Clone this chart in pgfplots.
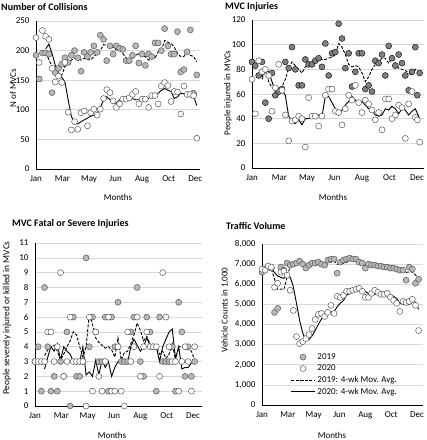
\documentclass[border=0pt]{standalone}
\usepackage{fontspec}
\setmainfont{Carlito}
\usepackage{pgfplots}
\pgfplotsset{compat=1.18}
\definecolor{gridc}{RGB}{217,217,217}
\definecolor{markc}{RGB}{89,89,89}
\definecolor{fillA}{RGB}{184,184,184}
\definecolor{fillB}{RGB}{128,128,128}
\pgfplotsset{
 panel/.style={
   scale only axis, clip=false,
   axis x line*=bottom, axis y line*=left,
   axis line style={black, line width=0.7pt},
   ymajorgrids, grid style={gridc, line width=0.6pt},
   major tick length=0pt,
   xtick={0,8.25,16.5,24.75,33,41.25,49.5},
   xticklabels={Jan,Mar,May,Jun,Aug,Oct,Dec},
   tick label style={font=\fontsize{9}{10}\selectfont, black},
   /pgf/number format/assume math mode=true,
   scaled y ticks=false,
   xticklabel style={yshift=-3pt},
   yticklabel style={xshift=-3pt},
   xmin=0, ymin=0,
   legend image code/.code={\draw[mark repeat=2,mark phase=2,##1] plot coordinates {(0pt,0pt) (12pt,0pt) (24pt,0pt)};},
 },
 s19/.style={only marks, mark=*, mark size=3pt, mark options={fill=fillA, draw=markc, line width=0.5pt}},
 s20/.style={only marks, mark=*, mark size=3pt, mark options={fill=white, draw=markc, line width=0.5pt}},
 m19/.style={no marks, black, line width=0.9pt, dash pattern=on 3pt off 1.6pt},
 m20/.style={no marks, black, line width=0.9pt},
}
\begin{document}
\begin{tikzpicture}[x=1pt,y=1pt]
\useasboundingbox (0,0) rectangle (427,440);
% ---------------- Panel 1
\begin{axis}[panel, at={(36pt,271pt)}, anchor=south west, width=164pt, height=148pt,
  xmax=51, ymax=250, ytick={0,50,100,150,200,250}]
\addplot[s19] coordinates {(0,192)(1,152)(2,196)(3,196)(4,194)(5,129)(6,163)(7,170)(8,177)(9,188)(10,180)(11,192)(12,200)(13,188)(14,165)(15,197)(16,190)(17,197)(18,208)(19,197)(20,226)(21,219)(22,183)(23,208)(24,194)(25,208)(26,204)(27,202)(28,183)(29,183)(30,192)(31,208)(32,179)(33,194)(34,175)(35,194)(36,190)(37,213)(38,213)(39,200)(40,237)(41,208)(42,194)(43,194)(44,232)(45,164)(46,168)(47,198)(48,235)(49,128)(50,159)};
\addplot[s20] coordinates {(0,222)(1,180)(2,234)(3,224)(4,219)(5,170)(6,147)(7,157)(8,146)(9,180)(10,96)(11,66)(12,80)(13,67)(14,95)(15,98)(16,73)(17,95)(18,101)(19,91)(20,101)(21,119)(22,134)(23,129)(24,115)(25,104)(26,110)(27,118)(28,118)(29,120)(30,126)(31,131)(32,110)(33,118)(34,118)(35,104)(36,124)(37,124)(38,110)(39,140)(40,146)(41,141)(42,114)(43,131)(44,130)(45,93)(46,140)(47,126)(48,126)(49,124)(50,52)};
\addplot[m19] coordinates {(3,196)(4,185)(5,173)(6,164)(7,161)(8,158)(9,173)(10,178)(11,184)(12,187)(13,185)(14,184)(15,187)(16,185)(17,184)(18,190)(19,195)(20,200)(21,210)(22,209)(23,206)(24,206)(25,201)(26,201)(27,195)(28,188)(29,184)(30,186)(31,192)(32,195)(33,190)(34,190)(35,184)(36,186)(37,187)(38,198)(39,201)(40,217)(41,214)(42,212)(43,206)(44,195)(45,190)(46,190)(47,201)(48,192)(49,190)(50,181)};
\addplot[m20] coordinates {(3,203)(4,211)(5,195)(6,175)(7,163)(8,155)(9,147)(10,117)(11,89)(12,77)(13,76)(14,80)(15,83)(16,86)(17,89)(18,91)(19,94)(20,103)(21,117)(22,122)(23,117)(24,111)(25,111)(26,117)(27,119)(28,122)(29,122)(30,119)(31,117)(32,117)(33,117)(34,114)(35,119)(36,125)(37,128)(38,128)(39,133)(40,136)(41,133)(42,131)(43,119)(44,122)(45,128)(46,127)(47,122)(48,125)(49,124)(50,107)};
\end{axis}
% ---------------- Panel 2
\begin{axis}[panel, at={(252pt,272pt)}, anchor=south west, width=172pt, height=148pt,
  xmax=51.6, ymax=120, ytick={0,20,40,60,80,100,120}]
\addplot[s19, mark options={fill=fillB}] coordinates {(0,86)(1,83)(2,75)(3,86)(4,53)(5,40)(6,77)(7,59)(8,62)(9,64)(10,86)(11,81)(12,98)(13,80)(14,67)(15,67)(16,88)(17,84)(18,84)(19,87)(20,89)(21,82)(22,101)(23,75)(24,93)(25,94)(26,117)(27,105)(28,81)(29,93)(30,66)(31,78)(32,93)(33,93)(34,64)(35,67)(36,62)(37,87)(38,85)(39,92)(40,75)(41,99)(42,89)(43,83)(44,92)(45,85)(46,75)(47,63)(48,78)(49,98)(49.6,59)(50.3,77)};
\addplot[s20] coordinates {(0,72)(1,44)(2,87)(3,78)(4,80)(5,75)(6,46)(7,65)(8,84)(9,63)(10,43)(11,22)(12,38)(13,39)(14,42)(15,40)(16,17)(17,57)(18,42)(19,42)(20,34)(21,42)(22,59)(23,64)(24,64)(25,46)(26,45)(27,35)(28,48)(29,59)(30,55)(31,67)(32,53)(33,45)(34,55)(35,52)(36,47)(37,39)(38,45)(39,31)(40,56)(41,56)(42,40)(43,43)(44,51)(45,49)(46,24)(47,52)(48,62)(49,41)(49.6,39)(50.3,21)};
\addplot[m19] coordinates {(3,72)(4,79)(5,70)(6,65)(7,64)(8,63)(9,66)(10,72)(11,81)(12,86)(13,83)(14,80)(15,77)(16,82)(17,84)(18,86)(19,88)(20,89)(21,88)(22,88)(23,89)(24,90)(25,92)(26,101)(27,98)(28,92)(29,84)(30,82)(31,83)(32,82)(33,77)(34,70)(35,74)(36,80)(37,84)(38,86)(39,89)(40,89)(41,85)(42,89)(43,85)(44,81)(45,80)(46,79)(47,77)(48,75)(49,80)(50.3,77)};
\addplot[m20] coordinates {(3,74)(4,80)(5,78)(6,70)(7,62)(8,65)(9,63)(10,59)(11,42)(12,38)(13,36)(14,39)(15,35)(16,40)(17,40)(18,42)(19,40)(20,43)(21,42)(22,58)(23,58)(24,53)(25,48)(26,43)(27,47)(28,51)(29,54)(30,58)(31,55)(32,52)(33,54)(34,51)(35,48)(36,47)(37,43)(38,42)(39,43)(40,48)(41,47)(42,50)(43,48)(44,44)(45,48)(46,47)(47,43)(48,46)(49,48)(50.3,40)};
\end{axis}
% ---------------- Panel 3
\begin{axis}[panel, at={(35pt,34pt)}, anchor=south west, width=167pt, height=163pt,
  xmax=52.3, ymax=11, ytick={0,1,...,11}]
\addplot[s19] coordinates {(0,3)(1,4)(2,1)(3,8)(4,4)(5,1)(6,2)(7,1)(8,3)(9,2)(10,5)(11,0)(12,6)(13,2)(14,2)(15,3)(16,10)(17,4)(18,6)(19,5)(20,3)(21,3)(22,6)(23,1)(24,6)(25,4)(26,7)(27,3)(28,3)(29,3)(30,5)(31,6)(32,8)(33,3)(34,2)(35,6)(36,5)(37,4)(38,1)(39,6)(40,3)(41,3)(42,3)(43,4)(44,1)(45,7)(46,5)(47,2)(48,4)(49,2)(50,3)};
\addplot[s20] coordinates {(0,3)(1,3)(2,3)(3,3)(4,5)(5,5)(6,3)(7,4)(8,9)(9,2)(10,3)(11,6)(12,3)(13,3)(14,3)(15,3)(16,0)(17,6)(18,1)(19,5)(20,2)(21,1)(22,3)(23,6)(24,1)(25,1)(26,4)(27,1)(28,0)(29,5)(30,3)(31,4)(32,6)(33,2)(34,4)(35,5)(36,4)(37,4)(38,4)(39,2)(40,9)(41,6)(42,4)(43,3)(44,3)(45,1)(46,3)(47,4)(48,3)(49,1)(50,4)};
\addplot[m19] coordinates {(3,3.4)(4,3.8)(5,4)(6,4.1)(7,3.7)(8,3.1)(9,3.5)(10,4)(11,4.4)(12,5)(13,4.8)(14,4)(15,3.3)(16,4)(17,6.2)(18,5.5)(19,4.6)(20,4.3)(21,4.1)(22,3.9)(23,4)(24,3.8)(25,3.3)(26,4.6)(27,3.1)(28,3.6)(29,3.7)(30,4.2)(31,4.8)(32,5.6)(33,5.1)(34,4.4)(35,4.7)(36,4.2)(37,4)(38,4)(39,3.5)(40,3.7)(41,3.2)(42,3.5)(43,4.2)(44,3.1)(45,4)(46,4)(47,4)(48,3.8)(49,3.7)(50,3.1)};
\addplot[m20] coordinates {(3,2.5)(4,3.3)(5,4)(6,3.7)(7,4.2)(8,3.1)(9,4)(10,3.7)(11,3.5)(12,3)(13,3)(14,3)(15,4)(16,2.1)(17,2.3)(18,2)(19,3.1)(20,2.1)(21,3.1)(22,2.6)(23,3)(24,2)(25,2.6)(26,3)(27,3.1)(28,3.1)(29,2.9)(30,4)(31,4.5)(32,4.1)(33,3.7)(34,4)(35,4.6)(36,4.1)(37,4)(38,4)(39,3)(40,4)(41,4.5)(42,5)(43,5.2)(44,3.2)(45,4)(46,2.5)(47,2.6)(48,2.6)(49,2.9)(50,2.9)};
\end{axis}
% ---------------- Panel 4
\begin{axis}[panel, at={(262pt,35pt)}, anchor=south west, width=161pt, height=161pt,
  xmax=51.4, ymax=8000, ytick={0,1000,...,8000},
  legend style={at={(axis description cs:0.17,0.34)}, anchor=north west, draw=none, fill=none,
    font=\fontsize{9}{10}\selectfont, inner sep=1pt, row sep=0pt},
  legend cell align=left]
\addplot[s19] coordinates {(0,6600)(1,6750)(2,6850)(3,6800)(4,4600)(5,4800)(6,6850)(7,6700)(8,7050)(9,6950)(10,7000)(11,7050)(12,7150)(13,7000)(14,6800)(15,6950)(16,7050)(17,7050)(18,7100)(19,7000)(20,6950)(21,7200)(22,7250)(23,7250)(24,6550)(25,7100)(26,7200)(27,7250)(28,7300)(29,7250)(30,7250)(31,7100)(32,7050)(33,6800)(34,7000)(35,6950)(36,6950)(37,6900)(38,6900)(39,6850)(40,6850)(41,6800)(42,6800)(43,6750)(44,6700)(45,6700)(46,6200)(47,6850)(48,6750)(49,6050)(50,6250)};
\addlegendentry{2019}
\addplot[s20] coordinates {(0,6750)(1,6700)(2,6900)(3,6850)(4,5850)(5,6050)(6,6600)(7,6650)(8,6450)(9,5700)(10,4700)(11,3400)(12,3050)(13,3150)(14,3300)(15,3500)(16,3800)(17,4250)(18,4500)(19,4550)(20,4400)(21,4600)(22,4950)(23,4550)(24,5400)(25,5350)(26,5450)(27,5650)(28,5650)(29,5700)(30,5750)(31,5800)(32,5650)(33,5350)(34,5350)(35,5550)(36,5700)(37,5600)(38,5500)(39,5500)(40,5550)(41,5350)(42,5200)(43,5050)(44,4650)(45,5150)(46,5100)(47,5150)(48,5250)(49,4950)(50,3700)};
\addlegendentry{2020}
\addplot[m19] coordinates {(3,6750)(4,6250)(5,5750)(6,5760)(7,5740)(8,6350)(9,6900)(10,6930)(11,7000)(12,7050)(13,7050)(14,7000)(15,6980)(16,6950)(17,6960)(18,7040)(19,7050)(20,7030)(21,7060)(22,7100)(23,7160)(24,6990)(25,7040)(26,7030)(27,7080)(28,7210)(29,7250)(30,7260)(31,7230)(32,7160)(33,7050)(34,7000)(35,6950)(36,6930)(37,6950)(38,6920)(39,6880)(40,6870)(41,6850)(42,6830)(43,6800)(44,6760)(45,6740)(46,6590)(47,6610)(48,6620)(49,6460)(50,6320)};
\addlegendentry{2019: 4-wk Mov. Avg.}
\addplot[m20] coordinates {(3,6800)(4,6580)(5,6410)(6,6340)(7,6290)(8,6440)(9,6350)(10,5880)(11,5060)(12,4210)(13,3580)(14,3230)(15,3250)(16,3440)(17,3710)(18,4010)(19,4280)(20,4430)(21,4510)(22,4630)(23,4630)(24,4880)(25,5060)(26,5190)(27,5460)(28,5530)(29,5610)(30,5690)(31,5730)(32,5730)(33,5640)(34,5540)(35,5480)(36,5490)(37,5550)(38,5590)(39,5580)(40,5540)(41,5480)(42,5400)(43,5290)(44,5060)(45,5010)(46,4990)(47,4990)(48,5160)(49,5110)(50,4760)};
\addlegendentry{2020: 4-wk Mov. Avg.}
\end{axis}
% ---------------- Titles and labels
\begin{scope}[every node/.style={inner sep=0pt}]
\node[anchor=west, font=\fontsize{10}{12}\selectfont\bfseries] at (1,433) {Number of Collisions};
\node[anchor=west, font=\fontsize{10}{12}\selectfont\bfseries] at (225,433) {MVC Injuries};
\node[anchor=west, font=\fontsize{10}{12}\selectfont\bfseries] at (12,216) {MVC Fatal or Severe Injuries};
\node[anchor=west, font=\fontsize{10}{12}\selectfont\bfseries] at (226,214) {Traffic Volume};
\node[font=\fontsize{9}{10}\selectfont] at (118,243) {Months};
\node[font=\fontsize{9}{10}\selectfont] at (333,243) {Months};
\node[font=\fontsize{9}{10}\selectfont] at (112,5) {Months};
\node[font=\fontsize{9}{10}\selectfont] at (332,5) {Months};
\node[rotate=90, font=\fontsize{9}{10}\selectfont] at (13,352) {N of MVCs};
\node[rotate=90, font=\fontsize{9}{10}\selectfont] at (228,347) {People injured in MVCs};
\node[rotate=90, font=\fontsize{9.3}{10}\selectfont] at (7,122) {People severely injured or killed in MVCs};
\node[rotate=90, font=\fontsize{9}{10}\selectfont] at (225,130) {Vehicle Counts in 1,000};
\end{scope}
\end{tikzpicture}
\end{document}
